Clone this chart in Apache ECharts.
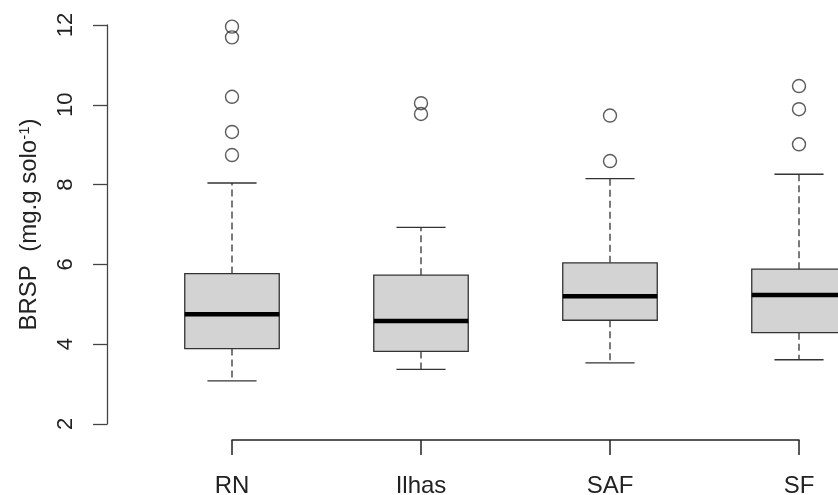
<!DOCTYPE html>
<html>
<head>
<meta charset="utf-8">
<script src="https://cdn.jsdelivr.net/npm/echarts@6/dist/echarts.min.js"></script>
<style>html,body{margin:0;padding:0;background:#fff;}#c{width:838px;height:495px;}</style>
</head>
<body>
<div id="c"></div>
<script>
var categories = ['RN', 'Ilhas', 'SAF', 'SF'];
var mins    = [3.08, 3.37, 3.53, 3.61];
var q1s     = [3.89, 3.82, 4.60, 4.29];
var medians = [4.75, 4.58, 5.20, 5.23];
var q3s     = [5.77, 5.73, 6.04, 5.88];
var maxs    = [8.04, 6.93, 8.15, 8.26];
var outliersRN    = [11.96, 11.69, 10.20, 9.32, 8.74];
var outliersIlhas = [10.04, 9.77];
var outliersSAF   = [9.73, 8.59];
var outliersSF    = [10.47, 9.89, 9.01];
var yTicks = [2, 4, 6, 8, 10, 12];

var boxData = categories.map(function (c, i) {
  return [i, mins[i], q1s[i], medians[i], q3s[i], maxs[i]];
});
var outlierData = [];
[outliersRN, outliersIlhas, outliersSAF, outliersSF].forEach(function (arr, i) {
  arr.forEach(function (v) { outlierData.push([i, v]); });
});

var FONT = 'Liberation Sans, Arial, sans-serif';
var chart = echarts.init(document.getElementById('c'));

function renderBox(params, api) {
  var idx = api.value(0);
  var band = api.size([1, 0])[0];
  var half = band * 0.25;
  var capHalf = band * 0.13;
  var pMin = api.coord([idx, api.value(1)]);
  var pQ1 = api.coord([idx, api.value(2)]);
  var pMed = api.coord([idx, api.value(3)]);
  var pQ3 = api.coord([idx, api.value(4)]);
  var pMax = api.coord([idx, api.value(5)]);
  var x = pMed[0];
  var dashStyle = { stroke: '#333', lineWidth: 1.3, lineDash: [7, 4] };
  var solid = { stroke: '#333', lineWidth: 1.3 };
  return {
    type: 'group',
    children: [
      { type: 'line', shape: { x1: x, y1: pQ3[1], x2: x, y2: pMax[1] }, style: dashStyle },
      { type: 'line', shape: { x1: x, y1: pQ1[1], x2: x, y2: pMin[1] }, style: dashStyle },
      { type: 'line', shape: { x1: x - capHalf, y1: pMax[1], x2: x + capHalf, y2: pMax[1] }, style: solid },
      { type: 'line', shape: { x1: x - capHalf, y1: pMin[1], x2: x + capHalf, y2: pMin[1] }, style: solid },
      { type: 'rect', shape: { x: x - half, y: pQ3[1], width: half * 2, height: pQ1[1] - pQ3[1] },
        style: { fill: '#d3d3d3', stroke: '#333', lineWidth: 1.3 } },
      { type: 'line', shape: { x1: x - half, y1: pMed[1], x2: x + half, y2: pMed[1] },
        style: { stroke: '#000', lineWidth: 4.5 } }
    ]
  };
}

chart.setOption({
  animation: false,
  backgroundColor: '#fff',
  grid: { left: 232, right: 39, top: 25, bottom: 71, containLabel: false, outerBoundsMode: 'none' },
  xAxis: {
    type: 'category',
    data: categories,
    boundaryGap: false,
    offset: 16,
    axisLine: { show: true, lineStyle: { color: '#222', width: 1.5 } },
    axisTick: { show: true, length: 15, lineStyle: { color: '#222', width: 1.5 } },
    axisLabel: { color: '#222', fontSize: 24, fontFamily: FONT, margin: 34 },
    splitLine: { show: false }
  },
  yAxis: {
    type: 'value',
    min: yTicks[0],
    max: yTicks[yTicks.length - 1],
    interval: 2,
    offset: 125,
    axisLine: { show: true, lineStyle: { color: '#444', width: 1.3 } },
    axisTick: { show: true, length: 14, lineStyle: { color: '#444', width: 1.3 } },
    axisLabel: { color: '#222', fontSize: 22, fontFamily: FONT, rotate: 90, margin: 30 },
    splitLine: { show: false },
    name: '{a|BRSP  (mg.g solo}{s|-1}{a|)}',
    nameLocation: 'middle',
    nameRotate: 90,
    nameGap: 66,
    nameTextStyle: {
      color: '#222', fontFamily: FONT, fontSize: 24,
      rich: {
        a: { fontSize: 24, fontFamily: FONT, color: '#222', verticalAlign: 'bottom' },
        s: { fontSize: 15, fontFamily: FONT, color: '#222', verticalAlign: 'top', padding: [0, 0, 0, 0] }
      }
    }
  },
  series: [
    {
      type: 'custom',
      renderItem: renderBox,
      encode: { x: 0, y: [1, 2, 3, 4, 5] },
      data: boxData,
      clip: false,
      z: 2
    },
    {
      type: 'scatter',
      data: outlierData,
      symbol: 'circle',
      symbolSize: 13,
      itemStyle: { color: 'rgba(0,0,0,0)', borderColor: '#333', borderWidth: 1.4 },
      z: 3
    }
  ]
});
</script>
</body>
</html>
